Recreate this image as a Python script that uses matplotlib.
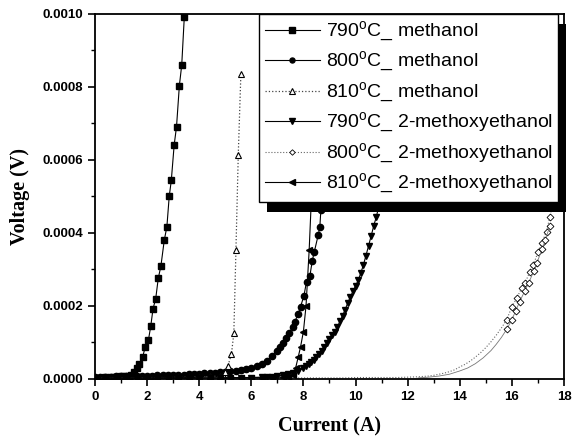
import matplotlib
matplotlib.use("Agg")
import matplotlib.pyplot as plt
from matplotlib.patches import Rectangle
from matplotlib.transforms import IdentityTransform
from matplotlib.ticker import MultipleLocator, FormatStrFormatter

plt.rcParams['font.family'] = 'Liberation Sans'
plt.rcParams['mathtext.fontset'] = 'custom'
plt.rcParams['mathtext.rm'] = 'Liberation Sans'

# voltages are in units of 1e-4 V
# 790C methanol (filled squares)
m790_x = [0.0, 0.2, 0.4, 0.6, 0.8, 1.0, 1.2, 1.4, 1.5, 1.6, 1.7, 1.83, 1.93, 2.05, 2.14,
          2.23, 2.33, 2.43, 2.53, 2.66, 2.76, 2.85, 2.93, 3.04, 3.13, 3.24, 3.33, 3.43]
m790_v = [0.04, 0.04, 0.05, 0.05, 0.06, 0.07, 0.08, 0.12, 0.2, 0.3, 0.42, 0.6, 0.88, 1.06, 1.44,
          1.93, 2.19, 2.76, 3.09, 3.8, 4.17, 5.0, 5.44, 6.41, 6.91, 8.04, 8.6, 9.93]

# 800C methanol (filled circles)
m800_x = [0.0, 0.2, 0.4, 0.6, 0.8, 1.0, 1.2, 1.4, 1.6, 1.8, 2.0, 2.2, 2.4, 2.6, 2.8, 3.0,
          3.2, 3.4, 3.6, 3.8, 4.0, 4.2, 4.4, 4.6, 4.8, 5.0, 5.2, 5.4, 5.6, 5.8, 6.0, 6.2,
          6.4, 6.6, 6.8, 7.0, 7.1, 7.2, 7.33, 7.46, 7.59, 7.67, 7.8, 7.89, 8.02, 8.12,
          8.25, 8.34, 8.42, 8.57, 8.63, 8.67, 8.75, 8.9]
m800_v = [0.05, 0.05, 0.06, 0.06, 0.07, 0.07, 0.07, 0.08, 0.08, 0.09, 0.09, 0.09, 0.10, 0.10,
          0.11, 0.11, 0.12, 0.12, 0.13, 0.14, 0.15, 0.16, 0.16, 0.17, 0.18, 0.20, 0.21, 0.23,
          0.25, 0.28, 0.31, 0.35, 0.40, 0.50, 0.62, 0.78, 0.88, 0.98, 1.11, 1.25, 1.43, 1.57,
          1.78, 1.98, 2.28, 2.67, 2.83, 3.24, 3.49, 3.95, 4.16, 4.63, 5.0, 6.0]

# 810C methanol (open up-triangles)
m810_x = [0.0, 0.4, 0.8, 1.2, 1.6, 2.0, 2.4, 2.8, 3.2, 3.6, 4.0, 4.4, 4.8, 4.9, 5.0, 5.1,
          5.24, 5.33, 5.41, 5.5, 5.6]
m810_v = [0.03, 0.03, 0.03, 0.03, 0.03, 0.04, 0.04, 0.04, 0.05, 0.05, 0.06, 0.07, 0.08, 0.1,
          0.2, 0.35, 0.69, 1.26, 3.52, 6.14, 8.36]

# 790C 2-methoxyethanol (filled down-triangles)
e790_x = [0.0, 0.4, 0.8, 1.2, 1.6, 2.0, 2.4, 2.8, 3.2, 3.6, 4.0, 4.4, 4.8, 5.2, 5.6, 6.0,
          6.4, 6.6, 6.8, 7.0, 7.2, 7.4, 7.6, 7.8, 8.0, 8.1, 8.2, 8.3, 8.4, 8.5, 8.6, 8.7,
          8.8, 8.9, 9.0, 9.1, 9.2, 9.3, 9.4, 9.5, 9.6, 9.7, 9.8, 9.9, 10.0, 10.1, 10.2,
          10.3, 10.4, 10.5, 10.6, 10.7, 10.8, 10.9, 11.0]
e790_v = [0.02, 0.02, 0.02, 0.02, 0.02, 0.02, 0.02, 0.03, 0.03, 0.03, 0.03, 0.03, 0.03, 0.04,
          0.04, 0.04, 0.05, 0.05, 0.06, 0.08, 0.1, 0.13, 0.17, 0.22, 0.3, 0.35, 0.4, 0.46,
          0.53, 0.6, 0.68, 0.78, 0.88, 0.99, 1.1, 1.2, 1.3, 1.42, 1.58, 1.73, 1.9, 2.08,
          2.25, 2.4, 2.55, 2.7, 2.9, 3.12, 3.38, 3.65, 3.92, 4.2, 4.45, 4.75, 5.1]

# 800C 2-methoxyethanol (open diamonds), two sweeps
e800_x = [0.0, 0.4, 0.8, 1.2, 1.6, 2.0, 2.4, 2.8, 3.2, 3.6, 4.0, 4.4, 4.8, 5.2, 5.6, 6.0,
          6.4, 6.8, 7.2, 7.6, 8.0, 8.4, 8.8, 9.2, 9.6, 10.0, 10.4, 10.8, 11.2, 11.6, 12.0,
          12.4, 12.8, 13.0, 13.2, 13.4, 13.6, 13.8, 14.0, 14.2, 14.4, 14.6, 14.8, 15.0,
          15.2, 15.4, 15.6, 15.8, 15.99, 16.18, 16.37, 16.5, 16.69, 16.82, 17.01, 17.14,
          17.33, 17.46, 17.6, 17.75]
e800_v = [0.02, 0.02, 0.02, 0.02, 0.02, 0.02, 0.02, 0.02, 0.02, 0.02, 0.02, 0.02, 0.02, 0.02,
          0.03, 0.03, 0.03, 0.03, 0.03, 0.03, 0.03, 0.03, 0.03, 0.03, 0.03, 0.04, 0.04, 0.04,
          0.04, 0.04, 0.05, 0.06, 0.08, 0.1, 0.13, 0.16, 0.2, 0.25, 0.33, 0.4, 0.49, 0.6,
          0.72, 0.86, 1.02, 1.2, 1.4, 1.62, 1.96, 2.21, 2.48, 2.62, 2.94, 3.12, 3.49, 3.72,
          4.04, 4.45, 4.9, 5.4]
e800b_x = [12.4, 12.8, 13.2, 13.6, 14.0, 14.3, 14.6, 14.9, 15.2, 15.4, 15.6, 15.8, 16.0,
           16.14, 16.3, 16.5, 16.64, 16.84, 16.96, 17.16, 17.28, 17.46]
e800b_v = [0.03, 0.05, 0.08, 0.13, 0.22, 0.3, 0.42, 0.58, 0.78, 0.95, 1.14, 1.36, 1.62,
           1.86, 2.12, 2.42, 2.62, 2.96, 3.18, 3.56, 3.8, 4.2]

# 810C 2-methoxyethanol (filled left-triangles)
e810_x = [0.0, 0.4, 0.8, 1.2, 1.6, 2.0, 2.4, 2.8, 3.2, 3.6, 4.0, 4.4, 4.8, 5.2, 5.6, 6.0,
          6.4, 6.8, 7.2, 7.4, 7.6, 7.7, 7.8, 7.89, 8.0, 8.1, 8.22, 8.4]
e810_v = [0.03, 0.03, 0.03, 0.03, 0.03, 0.03, 0.03, 0.03, 0.03, 0.03, 0.03, 0.03, 0.03, 0.03,
          0.04, 0.04, 0.04, 0.04, 0.05, 0.06, 0.1, 0.3, 0.6, 0.88, 1.3, 2.0, 3.52, 6.5]

fig = plt.figure(figsize=(5.72, 4.43), dpi=100)
ax = fig.add_axes([0.166, 0.1445, 0.82, 0.824])

def v(vals):
    return [a * 1e-4 for a in vals]

# diamonds only show clearly on the upper part of the sweep
dia_a = [i for i, x in enumerate(e800_x) if x >= 15.8]
dia_b = [i for i, x in enumerate(e800b_x) if x >= 15.8]

ax.plot(m790_x, v(m790_v), '-', color='k', lw=0.8, marker='s', ms=5, mfc='k', mec='k',
        label='790$^{\\rm o}$C_ methanol')
ax.plot(m800_x, v(m800_v), '-', color='k', lw=0.8, marker='o', ms=4.5, mfc='k', mec='k',
        label='800$^{\\rm o}$C_ methanol')
ax.plot(m810_x, v(m810_v), ':', color='#444444', lw=0.9, marker='^', ms=5, mfc='white', mec='k',
        mew=0.8, label='810$^{\\rm o}$C_ methanol')
ax.plot(e790_x, v(e790_v), '-', color='k', lw=0.8, marker='v', ms=5, mfc='k', mec='k',
        label='790$^{\\rm o}$C_ 2-methoxyethanol')
ax.plot(e800_x, v(e800_v), ':', color='#666666', lw=0.8, marker='D', ms=3.5, mfc='white',
        mec='k', mew=0.6, markevery=dia_a, label='800$^{\\rm o}$C_ 2-methoxyethanol')
ax.plot(e800b_x, v(e800b_v), '-', color='#777777', lw=0.6, marker='D', ms=3.5, mfc='white',
        mec='k', mew=0.6, markevery=dia_b)
ax.plot(e810_x, v(e810_v), '-', color='k', lw=0.8, marker='<', ms=5, mfc='k', mec='k',
        label='810$^{\\rm o}$C_ 2-methoxyethanol')

ax.set_xlim(0, 18)
ax.set_ylim(0, 0.001)
ax.xaxis.set_major_locator(MultipleLocator(2))
ax.xaxis.set_minor_locator(MultipleLocator(1))
ax.yaxis.set_major_locator(MultipleLocator(0.0002))
ax.yaxis.set_minor_locator(MultipleLocator(0.0001))
ax.yaxis.set_major_formatter(FormatStrFormatter('%.4f'))
ax.tick_params(which='major', direction='out', length=5, width=1.2, labelsize=9.5)
ax.tick_params(which='minor', direction='out', length=3, width=1.0)
for lab in ax.get_xticklabels() + ax.get_yticklabels():
    lab.set_fontweight('bold')
for sp in ax.spines.values():
    sp.set_linewidth(1.3)

ax.set_xlabel('Current (A)', family='Liberation Serif', fontweight='bold', fontsize=14.5, labelpad=10)
ax.set_ylabel('Voltage (V)', family='Liberation Serif', fontweight='bold', fontsize=14.5, labelpad=9)

leg = ax.legend(loc='upper right', bbox_to_anchor=(0.988, 1.0), borderaxespad=0, fontsize=14,
                frameon=True, fancybox=False, edgecolor='k', framealpha=1, labelspacing=0.33,
                handlelength=2.8, handletextpad=0.3, borderpad=0.3, markerscale=0.8)
leg.get_frame().set_linewidth(1.0)
leg.set_zorder(5)

fig.canvas.draw()
bb = leg.get_window_extent()
shadow = Rectangle((bb.x0 + 8, bb.y0 - 10), bb.width, bb.height, transform=IdentityTransform(),
                   facecolor='k', edgecolor='none', zorder=4.5, clip_on=False)
ax.add_patch(shadow)

fig.savefig('out.png', dpi=100)
